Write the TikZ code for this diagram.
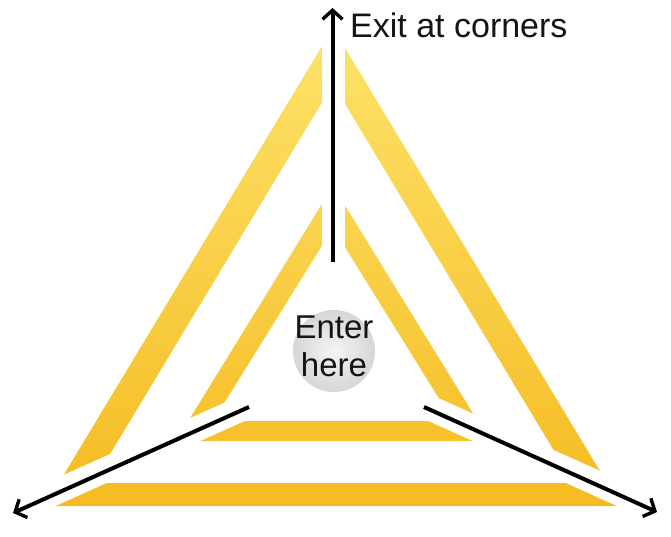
\documentclass[tikz,border=0pt]{standalone}
\usepackage{fontspec}
\setmainfont{Liberation Sans}
\usetikzlibrary{arrows.meta}
\definecolor{goldTop}{HTML}{FDE36A}
\definecolor{goldMid}{HTML}{F9CD3A}
\definecolor{goldBot}{HTML}{F5BB22}
\begin{document}
\begin{tikzpicture}[x=1pt,y=-1pt,
  exitarrow/.style={line width=4pt, black, -{Straight Barb[length=9pt,width=20pt,line width=3.4pt]}},
  gapstrip/.style={fill=white},
  lbl/.style={inner sep=0pt, text=black!92}]
\useasboundingbox (0,0) rectangle (671,537);
% two nested triangular bands
\shade[even odd rule, top color=goldTop, middle color=goldMid, bottom color=goldBot]
  (333,28) -- (45,506) -- (621,506) -- cycle
  (333,84) -- (92.6,483) -- (573.4,483) -- cycle
  (333,186) -- (176,441) -- (490,441) -- cycle
  (333,228) -- (213,421) -- (453,421) -- cycle;
% white gaps at the corners
\path[gapstrip] (322,30) rectangle (345,262);
\path[gapstrip] (243.3,394.2) -- (-1.8,504.3) -- (8.4,527.1) -- (253.5,417) -- cycle;
\path[gapstrip] (429.8,394.2) -- (671.9,503.3) -- (661.6,526.1) -- (419.5,417) -- cycle;
% arrows
\coordinate (topTail) at (332.5,262);
\coordinate (topTip) at (332.5,8);
\coordinate (leftTail) at (249,407);
\coordinate (leftTip) at (13,513);
\coordinate (rightTail) at (424,407);
\coordinate (rightTip) at (657,512);
\draw[exitarrow] (topTail) -- (topTip);
\draw[exitarrow] (leftTail) -- (leftTip);
\draw[exitarrow] (rightTail) -- (rightTip);
% ball
\node[circle, minimum size=82pt, inner sep=0pt, inner color=gray!8, outer color=gray!32] (ball) at (334,351) {};
\node[lbl, font=\fontsize{33}{38}\selectfont, anchor=north, align=center] (enter) at (334,315.5) {Enter\\here};
\node[lbl, font=\fontsize{34}{40}\selectfont, anchor=base west] (exit) at (350,38) {Exit at corners};
\end{tikzpicture}
\end{document}
